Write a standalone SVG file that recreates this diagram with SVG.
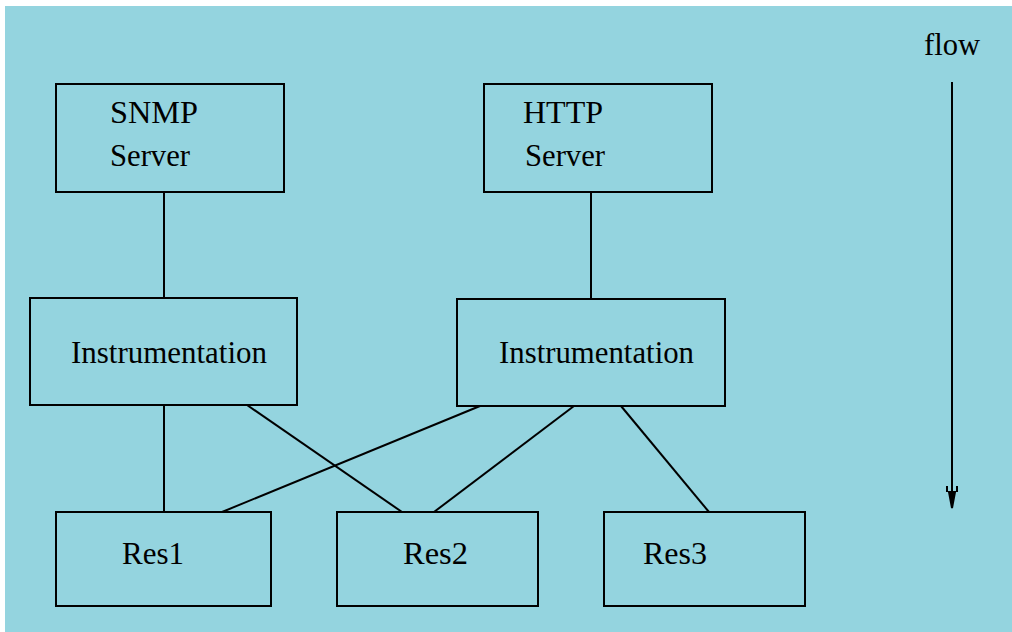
<svg xmlns="http://www.w3.org/2000/svg" width="1012" height="632" viewBox="0 0 1012 632">
<style>
.box{fill:none;stroke:#000;stroke-width:2}
.ln{stroke:#000;stroke-width:2;fill:none}
text{font-family:"Liberation Serif","Times New Roman",serif;font-size:31px;fill:#000}
</style>
<defs>
<marker id="ah" markerWidth="24" markerHeight="14" refX="22" refY="7" orient="auto" markerUnits="userSpaceOnUse" viewBox="0 0 24 14">
<path d="M0 2 H6 M0 12 H6 M6 4 L22 7 L6 10 Z" stroke="#000" stroke-width="2" fill="#000"/>
</marker>
</defs>
<rect x="0" y="0" width="1012" height="632" fill="#fff"/>
<rect x="5" y="6" width="1007" height="626" fill="#94d4df"/>
<g id="connectors">
<line class="ln" x1="164" y1="192" x2="164" y2="298"/>
<line class="ln" x1="591" y1="192" x2="591" y2="299"/>
<line class="ln" x1="164" y1="405" x2="164" y2="512"/>
<line class="ln" x1="247" y1="405" x2="402" y2="512"/>
<line class="ln" x1="480" y1="406" x2="222" y2="512"/>
<line class="ln" x1="574" y1="406" x2="434" y2="512"/>
<line class="ln" x1="621" y1="406" x2="709" y2="512"/>
<line class="ln" x1="952" y1="82" x2="952" y2="508" marker-end="url(#ah)"/>
</g>
<g id="snmp-server">
<rect class="box" x="56" y="84" width="228" height="108"/>
<text x="110" y="123" textLength="88" lengthAdjust="spacingAndGlyphs">SNMP</text>
<text x="110" y="166" textLength="80" lengthAdjust="spacingAndGlyphs">Server</text>
</g>
<g id="http-server">
<rect class="box" x="484" y="84" width="228" height="108"/>
<text x="523" y="123" textLength="80" lengthAdjust="spacingAndGlyphs">HTTP</text>
<text x="525" y="166" textLength="80" lengthAdjust="spacingAndGlyphs">Server</text>
</g>
<g id="instrumentation-1">
<rect class="box" x="30" y="298" width="267" height="107"/>
<text x="71" y="363" textLength="196" lengthAdjust="spacingAndGlyphs">Instrumentation</text>
</g>
<g id="instrumentation-2">
<rect class="box" x="457" y="299" width="268" height="107"/>
<text x="499" y="363" textLength="195" lengthAdjust="spacingAndGlyphs">Instrumentation</text>
</g>
<g id="res1">
<rect class="box" x="56" y="512" width="215" height="94"/>
<text x="122" y="564" textLength="62" lengthAdjust="spacingAndGlyphs">Res1</text>
</g>
<g id="res2">
<rect class="box" x="337" y="512" width="201" height="94"/>
<text x="403" y="564" textLength="65" lengthAdjust="spacingAndGlyphs">Res2</text>
</g>
<g id="res3">
<rect class="box" x="604" y="512" width="201" height="94"/>
<text x="643" y="564" textLength="64" lengthAdjust="spacingAndGlyphs">Res3</text>
</g>
<text id="flow-label" x="924" y="55" textLength="56" lengthAdjust="spacingAndGlyphs">flow</text>
</svg>
